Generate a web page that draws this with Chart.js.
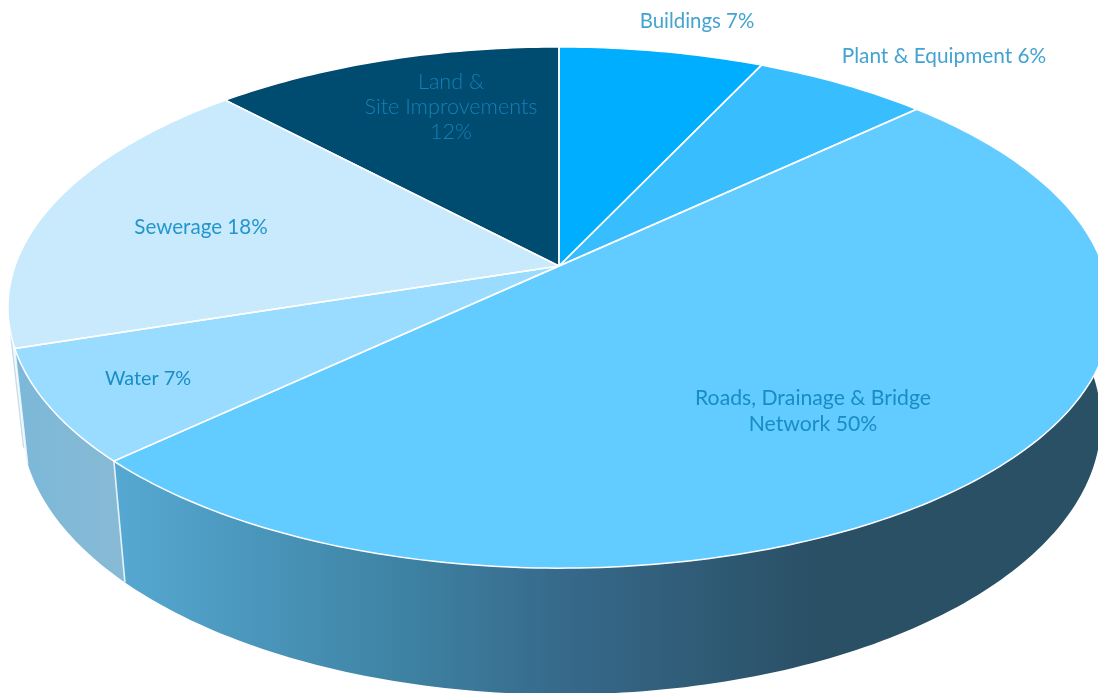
<!DOCTYPE html>
<html>
<head>
<meta charset="utf-8">
<title>Asset classes</title>
<script src="https://cdn.jsdelivr.net/npm/chart.js@4"></script>
<style>
  html, body { margin: 0; padding: 0; background: #fff; overflow: hidden; }
  canvas { display: block; }
</style>
</head>
<body>
<canvas id="pie" width="1098" height="693"></canvas>
<script>
// Share of assets by class, in percent.
const categories = ["Buildings", "Plant & Equipment", "Roads, Drainage & Bridge Network", "Water", "Sewerage", "Land & Site Improvements"];
const shares = [7, 6, 50, 7, 18, 12];
const sliceColors = ["#00AEFF", "#38BEFF", "#62CBFF", "#99DCFF", "#C9EAFC", "#004B70"];

// Wording of each label ahead of its percentage; a newline starts a new row.
const labelLeads = ["Buildings ", "Plant & Equipment ", "Roads, Drainage & Bridge\nNetwork ", "Water ", "Sewerage ", "Land &\nSite Improvements\n"];

// Where each label is centred, and how it is inked.
const labelCentres = [[697, 21], [944, 56], [813, 411], [148, 379], [201, 227], [451, 107]];
const labelInks = ["#45A3D2", "#45A3D2", "#1A8CC4", "#1A8CC4", "#2496CE", "#1480B8"];
const labelFonts = ["20.4px Lato", "20.8px Lato", "21.2px Lato", "19.8px Lato", "20.6px Lato", "300 21.6px Lato"];
const rowHeights = [0, 0, 26, 0, 0, 25];

// Perspective of the two discs: the top face and the hidden bottom face.
const topDisc = { cx: 559, cy: 266, a: 544, b: 254, k: 0.1593, bulge: 8 };
const baseDisc = { cx: 561, cy: 378, a: 533, b: 266, k: 0.1593, bulge: 0 };

// Angle is measured clockwise from twelve o'clock, as on the pie's own arcs.
function project(disc, angle) {
  const x = Math.cos(angle), y = Math.sin(angle);
  const w = 1 - disc.k * y;
  const swell = disc.bulge * Math.max(0, x) * Math.max(0, y);
  return [disc.cx + disc.a * x / w + swell, disc.cy + disc.b * y / w];
}

function traceArc(ctx, disc, from, to, moveFirst) {
  const steps = Math.max(2, Math.ceil(Math.abs(to - from) * 60));
  for (let i = 0; i <= steps; i++) {
    const p = project(disc, from + (to - from) * i / steps);
    if (i === 0 && moveFirst) ctx.moveTo(p[0], p[1]);
    else ctx.lineTo(p[0], p[1]);
  }
}

function wallPath(ctx, from, to) {
  ctx.beginPath();
  traceArc(ctx, topDisc, from, to, true);
  traceArc(ctx, baseDisc, to, from, false);
  ctx.closePath();
}

function wallEdge(ctx, angle, color, width) {
  const t = project(topDisc, angle), b = project(baseDisc, angle);
  ctx.strokeStyle = color;
  ctx.lineWidth = width;
  ctx.beginPath();
  ctx.moveTo(t[0], t[1]);
  ctx.lineTo(b[0], b[1]);
  ctx.stroke();
}

const tiltedPie = {
  id: "tiltedPie",
  beforeDatasetsDraw(chart) {
    const ctx = chart.ctx;
    const arcs = chart.getDatasetMeta(0).data;
    const roads = arcs[2], water = arcs[3], sewerage = arcs[4];
    ctx.save();

    // Rim of the sewerage slice: only a pale sliver shows beside the water wall.
    const sliverEnd = sewerage.startAngle + 0.06;
    wallPath(ctx, sewerage.startAngle, sliverEnd);
    ctx.fillStyle = "#F6FAFD";
    ctx.fill();
    wallEdge(ctx, sliverEnd, "#C4DDEB", 1.3);

    // Rim of the water slice.
    const waterGrad = ctx.createLinearGradient(20, 0, 124, 0);
    waterGrad.addColorStop(0, "#7CB8D9");
    waterGrad.addColorStop(1, "#88BAD4");
    wallPath(ctx, water.startAngle, water.endAngle);
    ctx.fillStyle = waterGrad;
    ctx.fill();

    // Rim of the roads slice, shading from left to right.
    const roadsGrad = ctx.createLinearGradient(113, 0, 810, 0);
    roadsGrad.addColorStop(0, "#56A9D3");
    roadsGrad.addColorStop(0.4, "#3F84A5");
    roadsGrad.addColorStop(0.65, "#36698A");
    roadsGrad.addColorStop(1, "#2A5066");
    wallPath(ctx, roads.startAngle, roads.endAngle);
    ctx.fillStyle = roadsGrad;
    ctx.fill();

    wallEdge(ctx, water.startAngle, "#E6F2F8", 1.6);
    wallEdge(ctx, sewerage.startAngle, "#EAF4F9", 1.2);

    // Top face, one slice per library arc.
    arcs.forEach((arc, i) => {
      ctx.beginPath();
      ctx.moveTo(topDisc.cx, topDisc.cy);
      traceArc(ctx, topDisc, arc.startAngle, arc.endAngle, false);
      ctx.closePath();
      ctx.fillStyle = sliceColors[i];
      ctx.fill();
    });
    arcs.forEach((arc) => {
      ctx.beginPath();
      ctx.moveTo(topDisc.cx, topDisc.cy);
      traceArc(ctx, topDisc, arc.startAngle, arc.endAngle, false);
      ctx.closePath();
      ctx.strokeStyle = "#FFFFFF";
      ctx.lineWidth = 1.5;
      ctx.lineJoin = "round";
      ctx.stroke();
    });

    // Labels.
    ctx.textAlign = "center";
    ctx.textBaseline = "middle";
    labelLeads.forEach((lead, i) => {
      const rows = (lead + shares[i] + "%").split("\n");
      const top = labelCentres[i][1] - (rows.length - 1) * rowHeights[i] / 2;
      ctx.font = labelFonts[i];
      ctx.fillStyle = labelInks[i];
      rows.forEach((row, r) => ctx.fillText(row, labelCentres[i][0], top + r * rowHeights[i]));
    });

    ctx.restore();
    return false; // the tilted drawing replaces the flat arcs
  }
};

new Chart(document.getElementById("pie"), {
  type: "pie",
  data: {
    labels: categories,
    datasets: [{ data: shares, backgroundColor: sliceColors }]
  },
  options: {
    responsive: false,
    animation: false,
    plugins: { legend: { display: false }, tooltip: { enabled: false } }
  },
  plugins: [tiltedPie]
});
</script>
</body>
</html>
